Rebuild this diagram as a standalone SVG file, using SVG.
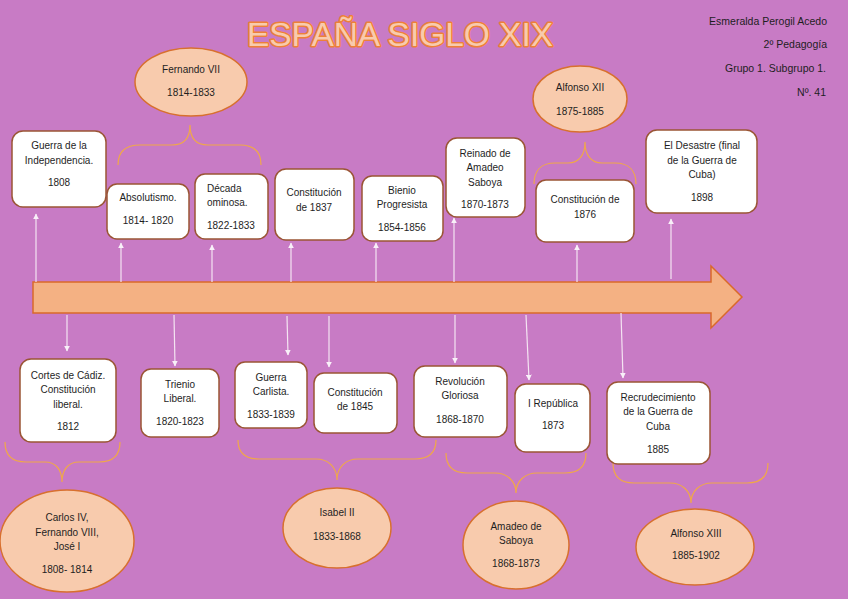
<svg xmlns="http://www.w3.org/2000/svg" width="848" height="599" viewBox="0 0 848 599">
<defs>
<style>
.bg{fill:#C87BC5}
.box{fill:#FFFFFF;stroke:#9A5535;stroke-width:1.5}
.ell{fill:#F8CBAD;stroke:#D8702E;stroke-width:1.5}
.brace{fill:none;stroke:#F0A848;stroke-width:1.2}
.t{font-family:"Liberation Sans",Arial,sans-serif;font-size:10px;fill:#1E1E1E;text-anchor:middle}
.tl{text-anchor:start}
.info{font-family:"Liberation Sans",Arial,sans-serif;font-size:10.5px;fill:#1E1E1E;text-anchor:end}
.con{stroke:#F4E4F2;stroke-width:1.2;fill:none}
</style>
<marker id="ah" viewBox="0 0 10 10" refX="9" refY="5" markerWidth="6" markerHeight="6" markerUnits="userSpaceOnUse" orient="auto">
<path d="M0,0 L10,5 L0,10 Z" fill="#F8F0F8"/>
</marker>
</defs>
<rect class="bg" x="0" y="0" width="848" height="599"/>

<text x="400" y="46" font-family="'Liberation Sans',Arial,sans-serif" font-size="33" text-anchor="middle" fill="#F8CBAD" stroke="#EE8038" stroke-width="3" paint-order="stroke" stroke-linejoin="round" textLength="306" lengthAdjust="spacingAndGlyphs">ESPAÑA SIGLO XIX</text>

<g id="info">
<text class="info" x="827" y="25">Esmeralda Perogil Acedo</text>
<text class="info" x="827" y="48">2º Pedagogía</text>
<text class="info" x="826" y="72">Grupo 1. Subgrupo 1.</text>
<text class="info" x="826" y="96">Nº. 41</text>
</g>

<g id="timeline">
<path d="M33,282 L711,282 L711,266 L742,297 L711,328 L711,313 L33,313 Z" fill="#F4B183" stroke="#D9692A" stroke-width="1.5"/>
</g>

<g id="connectors">
<line class="con" x1="36" y1="282" x2="36" y2="214" marker-end="url(#ah)"/>
<line class="con" x1="121" y1="282" x2="121" y2="243" marker-end="url(#ah)"/>
<line class="con" x1="212" y1="282" x2="212" y2="245" marker-end="url(#ah)"/>
<line class="con" x1="291" y1="282" x2="291" y2="243" marker-end="url(#ah)"/>
<line class="con" x1="376" y1="282" x2="376" y2="243" marker-end="url(#ah)"/>
<line class="con" x1="454" y1="282" x2="454" y2="218" marker-end="url(#ah)"/>
<line class="con" x1="577" y1="282" x2="577" y2="245" marker-end="url(#ah)"/>
<line class="con" x1="671" y1="279" x2="671" y2="219" marker-end="url(#ah)"/>
<line class="con" x1="67" y1="315" x2="67" y2="351" marker-end="url(#ah)"/>
<line class="con" x1="174" y1="315" x2="175" y2="366" marker-end="url(#ah)"/>
<line class="con" x1="287" y1="316" x2="288" y2="355" marker-end="url(#ah)"/>
<line class="con" x1="329" y1="316" x2="329" y2="367" marker-end="url(#ah)"/>
<line class="con" x1="455" y1="315" x2="455" y2="363" marker-end="url(#ah)"/>
<line class="con" x1="526" y1="315" x2="529" y2="380" marker-end="url(#ah)"/>
<line class="con" x1="621" y1="313" x2="623" y2="378" marker-end="url(#ah)"/>
</g>

<g id="braces">
<path class="brace" d="M118,165 C118,152 125,145 140,145 L172,145 C184,145 190,138 190,125 C190,138 196,145 208,145 L240,145 C254,145 261,152 261,165"/>
<path class="brace" d="M534,184 C534,171 541,163 555,163 L568,163 C579,163 585,155 585,142 C585,155 591,163 602,163 L615,163 C629,163 636,171 636,184"/>
<path class="brace" d="M5,442 C5,455 12,462 26,462 L45,462 C56,462 62,470 62,482 C62,470 68,462 79,462 L99,462 C113,462 120,455 120,442"/>
<path class="brace" d="M238,440 C238,452 245,459 259,459 L316,459 C328,459 337,467 337,480 C337,467 346,459 358,459 L415,459 C429,459 436,452 436,440"/>
<path class="brace" d="M446,453 C446,466 453,473 467,473 L495,473 C507,473 516,481 516,493 C516,481 525,473 537,473 L565,473 C579,473 586,466 586,453"/>
<path class="brace" d="M613,463 C613,476 620,483 634,483 L670,483 C682,483 691,491 691,503 C691,491 700,483 712,483 L747,483 C761,483 768,476 768,463"/>
</g>

<g id="n-independencia">
<rect class="box" x="12" y="131" width="94" height="76" rx="11"/>
<text class="t" x="59" y="149">Guerra de la</text>
<text class="t" x="59" y="164">Independencia.</text>
<text class="t" x="59" y="186">1808</text>
</g>
<g id="n-absolutismo">
<rect class="box" x="107" y="184" width="82" height="55" rx="10"/>
<text class="t" x="148" y="201">Absolutismo.</text>
<text class="t" x="148" y="224">1814- 1820</text>
</g>
<g id="n-decada">
<rect class="box" x="195" y="174" width="73" height="65" rx="10"/>
<text class="t tl" x="207" y="192">Década</text>
<text class="t tl" x="207" y="206">ominosa.</text>
<text class="t tl" x="207" y="229">1822-1833</text>
</g>
<g id="n-const1837">
<rect class="box" x="275" y="169" width="79" height="71" rx="11"/>
<text class="t" x="314" y="196">Constitución</text>
<text class="t" x="314" y="211">de 1837</text>
</g>
<g id="n-bienio">
<rect class="box" x="362" y="176" width="81" height="65" rx="10"/>
<text class="t" x="402" y="194">Bienio</text>
<text class="t" x="402" y="208">Progresista</text>
<text class="t" x="402" y="231">1854-1856</text>
</g>
<g id="n-reinado">
<rect class="box" x="446" y="138" width="79" height="79" rx="11"/>
<text class="t" x="485" y="157">Reinado de</text>
<text class="t" x="485" y="171">Amadeo</text>
<text class="t" x="485" y="186">Saboya</text>
<text class="t" x="485" y="208">1870-1873</text>
</g>
<g id="n-const1876">
<rect class="box" x="536" y="180" width="98" height="62" rx="10"/>
<text class="t" x="585" y="203">Constitución de</text>
<text class="t" x="585" y="218">1876</text>
</g>
<g id="n-desastre">
<rect class="box" x="646" y="130" width="111" height="83" rx="11"/>
<text class="t" x="702" y="149">El Desastre (final</text>
<text class="t" x="702" y="164">de la Guerra de</text>
<text class="t" x="702" y="178">Cuba)</text>
<text class="t" x="702" y="201">1898</text>
</g>

<g id="n-fernando">
<ellipse class="ell" cx="191" cy="82" rx="56" ry="34"/>
<text class="t" x="191" y="73">Fernando VII</text>
<text class="t" x="191" y="96">1814-1833</text>
</g>
<g id="n-alfonso12">
<ellipse class="ell" cx="580" cy="99" rx="47" ry="33"/>
<text class="t" x="580" y="91">Alfonso XII</text>
<text class="t" x="580" y="115">1875-1885</text>
</g>

<g id="n-cadiz">
<rect class="box" x="20" y="359" width="96" height="83" rx="11"/>
<text class="t" x="68" y="379">Cortes de Cádiz.</text>
<text class="t" x="68" y="393">Constitución</text>
<text class="t" x="68" y="408">liberal.</text>
<text class="t" x="68" y="430">1812</text>
</g>
<g id="n-trienio">
<rect class="box" x="141" y="369" width="78" height="68" rx="10"/>
<text class="t" x="180" y="388">Trienio</text>
<text class="t" x="180" y="402">Liberal.</text>
<text class="t" x="180" y="425">1820-1823</text>
</g>
<g id="n-carlista">
<rect class="box" x="235" y="362" width="72" height="66" rx="10"/>
<text class="t" x="271" y="381">Guerra</text>
<text class="t" x="271" y="395">Carlista.</text>
<text class="t" x="271" y="418">1833-1839</text>
</g>
<g id="n-const1845">
<rect class="box" x="314" y="373" width="83" height="60" rx="10"/>
<text class="t" x="355" y="396">Constitución</text>
<text class="t" x="355" y="410">de 1845</text>
</g>
<g id="n-gloriosa">
<rect class="box" x="414" y="366" width="93" height="71" rx="11"/>
<text class="t" x="460" y="385">Revolución</text>
<text class="t" x="460" y="399">Gloriosa</text>
<text class="t" x="460" y="423">1868-1870</text>
</g>
<g id="n-republica">
<rect class="box" x="515" y="384" width="75" height="68" rx="11"/>
<text class="t" x="553" y="407">I República</text>
<text class="t" x="553" y="429">1873</text>
</g>
<g id="n-recrudecimiento">
<rect class="box" x="607" y="382" width="103" height="82" rx="11"/>
<text class="t" x="658" y="401">Recrudecimiento</text>
<text class="t" x="658" y="415">de la Guerra de</text>
<text class="t" x="658" y="430">Cuba</text>
<text class="t" x="658" y="453">1885</text>
</g>

<g id="n-carlos">
<ellipse class="ell" cx="67" cy="541" rx="67" ry="51"/>
<text class="t" x="67" y="521">Carlos IV,</text>
<text class="t" x="67" y="536">Fernando VIII,</text>
<text class="t" x="67" y="550">José I</text>
<text class="t" x="67" y="573">1808- 1814</text>
</g>
<g id="n-isabel">
<ellipse class="ell" cx="337" cy="528" rx="54" ry="40"/>
<text class="t" x="337" y="516">Isabel II</text>
<text class="t" x="337" y="540">1833-1868</text>
</g>
<g id="n-amadeo">
<ellipse class="ell" cx="516" cy="545" rx="53" ry="44"/>
<text class="t" x="516" y="530">Amadeo de</text>
<text class="t" x="516" y="544">Saboya</text>
<text class="t" x="516" y="567">1868-1873</text>
</g>
<g id="n-alfonso13">
<ellipse class="ell" cx="695" cy="547" rx="59" ry="38"/>
<text class="t" x="696" y="537">Alfonso XIII</text>
<text class="t" x="696" y="559">1885-1902</text>
</g>
</svg>
